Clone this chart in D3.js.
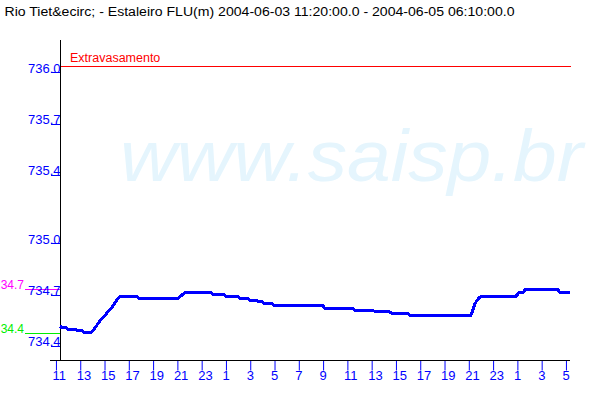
<!DOCTYPE html>
<html>
<head>
<meta charset="utf-8">
<script src="https://cdn.jsdelivr.net/npm/d3@7"></script>
<style>
  html, body { margin: 0; padding: 0; background: #ffffff; }
  svg { display: block; }
  text { font-family: "Liberation Sans", Arial, sans-serif; }
</style>
</head>
<body>
<svg id="chart" width="600" height="400"></svg>
<script>
// ---------------- DATA ----------------
const titleText = "Rio Tiet&ecirc; - Estaleiro FLU(m) 2004-06-03 11:20:00.0 - 2004-06-05 06:10:00.0";
const watermarkText = "www.saisp.br";

const times = [
  "2004-06-03 11:20","2004-06-03 11:30","2004-06-03 11:50","2004-06-03 12:00","2004-06-03 12:40",
  "2004-06-03 12:50","2004-06-03 13:10","2004-06-03 13:20","2004-06-03 13:50","2004-06-03 14:00",
  "2004-06-03 14:10","2004-06-03 14:20","2004-06-03 14:30","2004-06-03 14:40","2004-06-03 14:50",
  "2004-06-03 15:00","2004-06-03 15:10","2004-06-03 15:20","2004-06-03 15:30","2004-06-03 15:40",
  "2004-06-03 15:50","2004-06-03 16:00","2004-06-03 16:10","2004-06-03 16:20","2004-06-03 17:40",
  "2004-06-03 17:50","2004-06-03 21:00","2004-06-03 21:10","2004-06-03 21:20","2004-06-03 21:30",
  "2004-06-03 21:40","2004-06-03 23:40","2004-06-03 23:50","2004-06-04 00:00","2004-06-04 00:50",
  "2004-06-04 01:00","2004-06-04 02:00","2004-06-04 02:10","2004-06-04 02:50","2004-06-04 03:00",
  "2004-06-04 03:30","2004-06-04 03:40","2004-06-04 04:00","2004-06-04 04:10","2004-06-04 04:50",
  "2004-06-04 05:00","2004-06-04 09:00","2004-06-04 09:10","2004-06-04 11:30","2004-06-04 11:40",
  "2004-06-04 13:10","2004-06-04 13:20","2004-06-04 14:30","2004-06-04 14:40","2004-06-04 16:00",
  "2004-06-04 16:10","2004-06-04 21:10","2004-06-04 21:20","2004-06-04 21:30","2004-06-04 21:40",
  "2004-06-04 21:50","2004-06-04 22:00","2004-06-05 00:50","2004-06-05 01:00","2004-06-05 01:10",
  "2004-06-05 01:30","2004-06-05 01:40","2004-06-05 03:50","2004-06-05 04:00","2004-06-05 04:20",
  "2004-06-05 04:30","2004-06-05 05:20"
];
const levels = [
  734.516,734.505,734.505,734.496,734.496,
  734.487,734.487,734.477,734.477,734.487,
  734.500,734.516,734.535,734.550,734.562,
  734.575,734.590,734.602,734.615,734.630,
  734.648,734.668,734.680,734.689,734.689,
  734.676,734.676,734.685,734.694,734.705,
  734.715,734.715,734.706,734.700,734.700,
  734.689,734.689,734.677,734.677,734.665,
  734.665,734.658,734.658,734.646,734.646,
  734.635,734.635,734.617,734.617,734.605,
  734.605,734.598,734.598,734.588,734.588,
  734.576,734.576,734.610,734.645,734.665,
  734.680,734.687,734.687,734.700,734.713,
  734.713,734.732,734.732,734.727,734.727,
  734.715,734.715
];

// reference levels (left-margin labels are shown as they appear, clipped to "34.x")
const refNames  = ["Extravasamento", "34.7", "34.4"];
const refValues = [736.037, 734.730, 734.473];
const refColors = ["#ff0000", "#ff00ff", "#00ee00"];

// axis ticks
const yTickValues = [736.0, 735.7, 735.4, 735.0, 734.7, 734.4];
const xTickTimes = [
  "2004-06-03 11:00","2004-06-03 13:00","2004-06-03 15:00","2004-06-03 17:00","2004-06-03 19:00",
  "2004-06-03 21:00","2004-06-03 23:00","2004-06-04 01:00","2004-06-04 03:00","2004-06-04 05:00",
  "2004-06-04 07:00","2004-06-04 09:00","2004-06-04 11:00","2004-06-04 13:00","2004-06-04 15:00",
  "2004-06-04 17:00","2004-06-04 19:00","2004-06-04 21:00","2004-06-04 23:00","2004-06-05 01:00",
  "2004-06-05 03:00","2004-06-05 05:00"
];
const xDomain = ["2004-06-03 11:20", "2004-06-05 05:20"];
const yDomain = [734.317, 736.19];

// ---------------- DRAW ----------------
const parse = d3.utcParse("%Y-%m-%d %H:%M");
const svg = d3.select("#chart");

const x = d3.scaleTime().domain(xDomain.map(parse)).range([60, 570]);
const y = d3.scaleLinear().domain(yDomain).range([360, 40]);

// title
svg.append("text")
  .attr("x", 4.5).attr("y", 16)
  .attr("font-family", "'DejaVu Sans', Verdana, sans-serif")
  .attr("font-size", 12).attr("fill", "#000")
  .attr("textLength", 510).attr("lengthAdjust", "spacingAndGlyphs")
  .text(titleText);

// watermark
svg.append("text")
  .attr("x", 120).attr("y", 181)
  .attr("font-family", "'DejaVu Sans', Verdana, sans-serif")
  .attr("font-style", "italic")
  .attr("font-size", 72)
  .attr("fill", "#e5f5fd")
  .attr("textLength", 463).attr("lengthAdjust", "spacingAndGlyphs")
  .text(watermarkText);

// reference line: extravasamento (across plot)
svg.append("line")
  .attr("x1", 60).attr("x2", 571)
  .attr("y1", Math.round(y(refValues[0])) + 0.5).attr("y2", Math.round(y(refValues[0])) + 0.5)
  .attr("stroke", refColors[0]).attr("stroke-width", 1);
svg.append("text")
  .attr("x", 70).attr("y", 62)
  .attr("font-size", 12.5).attr("fill", refColors[0])
  .text(refNames[0]);

// left-margin alert markers
for (let i = 1; i < refValues.length; i++) {
  const yy = Math.round(y(refValues[i])) + 0.5;
  svg.append("line")
    .attr("x1", 25).attr("x2", 60).attr("y1", yy).attr("y2", yy)
    .attr("stroke", refColors[i]).attr("stroke-width", 1);
  svg.append("text")
    .attr("x", 24).attr("y", yy - 0.5)
    .attr("text-anchor", "end")
    .attr("font-size", 12).attr("fill", refColors[i])
    .text(refNames[i]);
}

// y axis
const yAxis = d3.axisLeft(y)
  .tickValues(yTickValues)
  .tickSize(10).tickSizeOuter(0)
  .tickFormat(d => d.toFixed(1));
const gy = svg.append("g").attr("transform", "translate(60.5,0)").call(yAxis);
gy.select(".domain").remove();
gy.selectAll(".tick line").attr("stroke", "#0000ff").attr("shape-rendering", "crispEdges");
gy.selectAll(".tick text")
  .attr("x", 0).attr("dy", 0)
  .attr("fill", "#0000ff").attr("font-size", 13)
  .attr("font-family", "'Liberation Sans', Arial, sans-serif");
svg.append("line").attr("x1", 60.5).attr("x2", 60.5).attr("y1", 40).attr("y2", 360)
  .attr("stroke", "#000").attr("stroke-width", 1);

// x axis
const xAxis = d3.axisBottom(x)
  .tickValues(xTickTimes.map(parse))
  .tickSize(10).tickSizeOuter(0)
  .tickFormat(d3.utcFormat("%-H"));
const gx = svg.append("g").attr("transform", "translate(0,360.5)").call(xAxis);
gx.select(".domain").remove();
gx.selectAll(".tick line").attr("stroke", "#0000ff");
gx.selectAll(".tick text")
  .attr("x", -4).attr("y", 19.5).attr("dy", 0)
  .attr("text-anchor", "start")
  .attr("fill", "#0000ff").attr("font-size", 13)
  .attr("font-family", "'Liberation Sans', Arial, sans-serif");
svg.append("line").attr("x1", 50).attr("x2", 570).attr("y1", 360.5).attr("y2", 360.5)
  .attr("stroke", "#000").attr("stroke-width", 1);

// data line
const series = times.map((t, i) => ({ t: parse(t), v: levels[i] }));
svg.append("path")
  .datum(series)
  .attr("fill", "none")
  .attr("stroke", "#0000ff")
  .attr("stroke-width", 3)
  .attr("stroke-linejoin", "miter")
  .attr("shape-rendering", "crispEdges")
  .attr("d", d3.line().x(d => x(d.t)).y(d => y(d.v)));
</script>
</body>
</html>
